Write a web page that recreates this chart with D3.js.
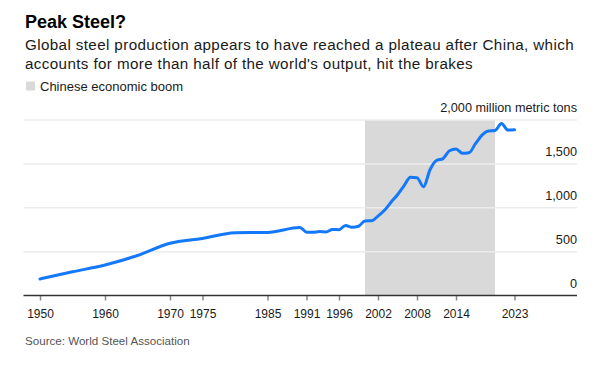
<!DOCTYPE html>
<html><head><meta charset="utf-8">
<script src="https://cdn.jsdelivr.net/npm/d3@7"></script>
<style>
body{margin:0;background:#fff;}
svg{display:block;font-family:"Liberation Sans",Arial,Helvetica,sans-serif;}
</style></head>
<body>
<script>
const years = [1950,1955,1960,1965,1970,1975,1980,1985,1990,1991,1992,1993,1994,1995,1996,1997,1998,1999,2000,2001,2002,2003,2004,2005,2006,2007,2008,2009,2010,2011,2012,2013,2014,2015,2016,2017,2018,2019,2020,2021,2022,2023];
const production = [189,270,347,456,595,650,716,719,775,722,720,728,725,752,750,799,777,789,850,852,905,971,1063,1148,1250,1348,1343,1239,1433,1538,1560,1650,1670,1620,1627,1730,1827,1875,1880,1960,1885,1888];
const xTickYears = [1950,1960,1970,1975,1985,1991,1996,2002,2008,2014,2023];
const yTicks = [0,500,1000,1500,2000];
const boomPeriod = [2000,2020];
const title = "Peak Steel?";
const subtitleLines = ["Global steel production appears to have reached a plateau after China, which","accounts for more than half of the world's output, hit the brakes"];
const legendLabel = "Chinese economic boom";
const unitLabel = "million metric tons";
const source = "Source: World Steel Association";

const W = 606, H = 370;
const svg = d3.select("body").append("svg").attr("width", W).attr("height", H);

const x = d3.scaleLinear().domain([1950, 2023]).range([40, 514.5]);
const y = d3.scaleLinear().domain([0, 2000]).range([295.5, 120]);
const plotLeft = 23.5, plotRight = 577;

// header
svg.append("text").attr("x", 25).attr("y", 27.5).attr("font-size", 18).attr("font-weight", "bold").attr("fill", "#000").text(title);
subtitleLines.forEach((t, i) => {
  svg.append("text").attr("x", 25).attr("y", 50 + i * 18.5).attr("font-size", 15.2)
    .attr("letter-spacing", 0.38).attr("fill", "#1a1a1a").text(t);
});
svg.append("rect").attr("x", 26).attr("y", 81.5).attr("width", 9).attr("height", 9).attr("fill", "#d9d9d9");
svg.append("text").attr("x", 40).attr("y", 90.5).attr("font-size", 13).attr("fill", "#1a1a1a").text(legendLabel);

// shading
svg.append("rect")
  .attr("x", x(boomPeriod[0])).attr("y", y(2000))
  .attr("width", x(boomPeriod[1]) - x(boomPeriod[0]))
  .attr("height", y(0) - y(2000))
  .attr("fill", "#d9d9d9");

// gridlines
svg.append("g").selectAll("line").data(yTicks.filter(d => d > 0)).join("line")
  .attr("x1", plotLeft).attr("x2", plotRight)
  .attr("y1", d => y(d)).attr("y2", d => y(d))
  .attr("stroke", "#ececec").attr("stroke-width", 1.5);

// y labels
svg.append("g").selectAll("text").data(yTicks).join("text")
  .attr("x", plotRight).attr("y", d => y(d) - 8)
  .attr("text-anchor", "end").attr("font-size", 12.7).attr("fill", "#1a1a1a")
  .text(d => d === 2000 ? d3.format(",")(d) + " " + unitLabel : d3.format(",")(d));

// line
const line = d3.line().x((d, i) => x(years[i])).y(d => y(d)).curve(d3.curveMonotoneX);
svg.append("path").datum(production)
  .attr("d", line).attr("fill", "none")
  .attr("stroke", "#1478fa").attr("stroke-width", 3).attr("stroke-linejoin", "round").attr("stroke-linecap", "round");

// x axis
const xAxis = d3.axisBottom(x).tickValues(xTickYears).tickFormat(d3.format("d")).tickSize(5).tickPadding(9);
const gx = svg.append("g").attr("transform", `translate(0,${y(0)})`).call(xAxis);
gx.select(".domain").remove();
gx.selectAll(".tick line").attr("stroke", "#888").attr("stroke-width", 1.5);
gx.selectAll(".tick text").attr("font-size", 12).attr("fill", "#1a1a1a").attr("font-family", "Liberation Sans, Arial, sans-serif");
svg.append("line").attr("x1", plotLeft).attr("x2", plotRight).attr("y1", y(0)).attr("y2", y(0))
  .attr("stroke", "#333").attr("stroke-width", 1.3);

svg.append("text").attr("x", 25).attr("y", 345).attr("font-size", 11.6).attr("fill", "#555").text(source);
</script>
</body></html>
